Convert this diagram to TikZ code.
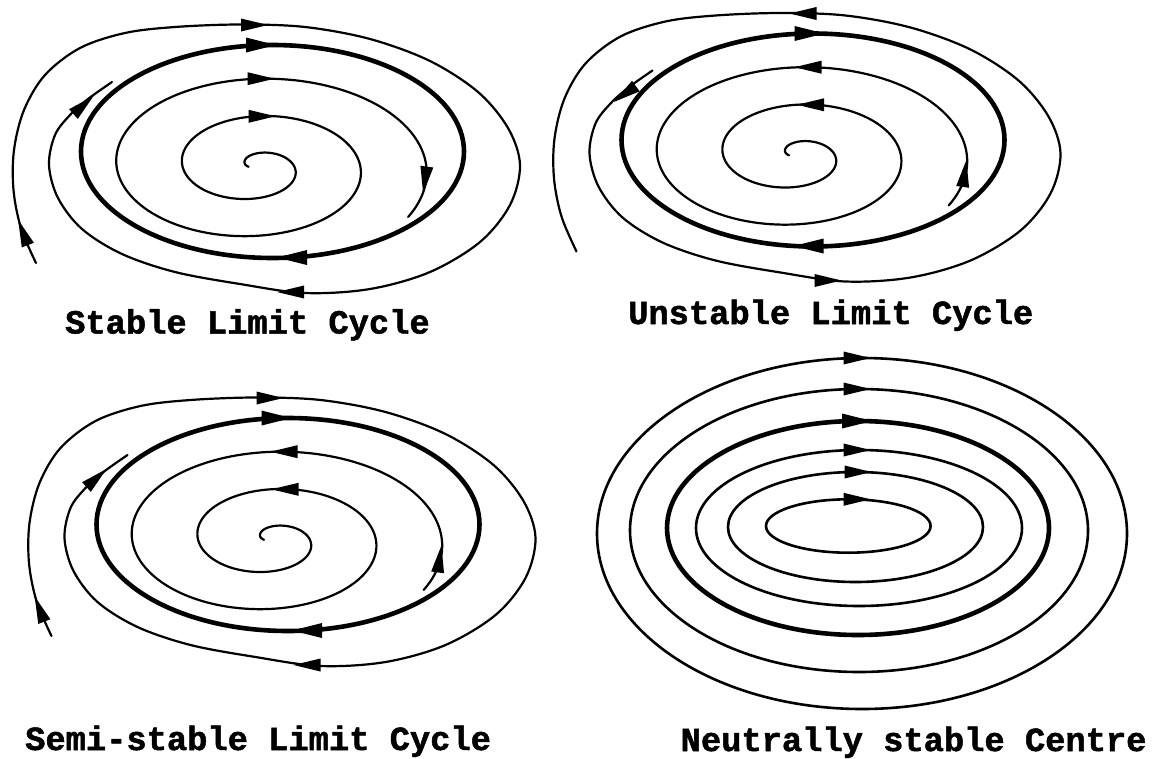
\documentclass[tikz,border=0pt]{standalone}
\usepackage{fontspec}
\newfontfamily\lblfont{Liberation Mono}[BoldFeatures={FakeBold=1.5}]
\newcommand{\mkarrow}[3]{\fill[shift={(#1,#2)},rotate=#3] (13.5,0) -- (-13.5,6.5) -- (-13.5,-6.5) -- cycle;}
\newcommand{\mkbarrow}[3]{\fill[shift={(#1,#2)},rotate=#3] (15,0) -- (-15,7.5) -- (-15,-7.5) -- cycle;}
\newcommand{\drawouter}{\draw[traj] plot[smooth,tension=0.55] coordinates {(36,263) (21,228) (13.5,190) (14,150) (24,110) (45,75) (80,48) (125,33) (175,27) (240,24.5) (305,27) (370,39) (430,61) (478,92) (508,128) (520,165) (510,205) (480,242) (430,272) (370,289) (305,293) (240,284) (175,272) (122,254) (82,229) (58,198) (49,165) (55,135) (70,115) (88,99) (112,82)};}
\newcommand{\drawinner}{\draw[traj] plot[domain=180:1110,samples=400,variable=\t] ({255+0.1833*(\t-145)*cos(\t)},{166.75+0.104*(\t-145)*sin(\t)});}
\newcommand{\drawcycle}{\draw[cyc] (272.5,151.5) ellipse [x radius=191.5pt, y radius=106.5pt];}
\begin{document}
\begin{tikzpicture}[x=1pt,y=-1pt,line join=round,line cap=round]
\tikzset{
 traj/.style={line width=2.2pt},
 cyc/.style={line width=4.6pt},
 ctr/.style={line width=2.6pt},
 lbl/.style={font=\lblfont\bfseries\fontsize{33.75pt}{40pt}\selectfont, inner sep=0pt, anchor=base west},
}
\useasboundingbox (0,0) rectangle (1154,758);
\fill[white] (0,0) rectangle (1154,758);

% Panel 1: stable limit cycle
\begin{scope}
 \drawouter \drawcycle \drawinner
 \mkarrow{23}{232.5}{111} \mkarrow{254.5}{25}{0} \mkarrow{290.5}{292}{180} \mkarrow{83.5}{105}{42}
 \mkbarrow{261}{45}{0} \mkbarrow{292}{257.5}{180}
 \mkarrow{262}{116.3}{0} \mkarrow{261}{78.7}{0} \mkarrow{425}{180}{-98}
\end{scope}

% Panel 2: unstable limit cycle
\begin{scope}[shift={(540.5,-11.5)}]
 \drawouter \drawcycle \drawinner
 \mkarrow{262.5}{25}{180} \mkarrow{287.5}{292}{0} \mkarrow{84.4}{105.5}{216}
 \mkbarrow{269}{45}{0} \mkbarrow{268}{257.5}{180}
 \mkarrow{270}{116.3}{180} \mkarrow{267.5}{78.7}{180} \mkarrow{424}{185}{82}
\end{scope}

% Panel 3: semi-stable limit cycle
\begin{scope}[shift={(15.5,373)}]
 \drawouter \drawcycle \drawinner
 \mkarrow{24}{236}{111} \mkarrow{254.5}{25}{0} \mkarrow{291.5}{292}{180} \mkarrow{81}{105}{42}
 \mkbarrow{261}{45}{0} \mkbarrow{291.5}{257.5}{180}
 \mkarrow{269.5}{116.3}{180} \mkarrow{268.5}{78.7}{180} \mkarrow{424}{186}{82}
\end{scope}

% Panel 4: neutrally stable centre
\draw[ctr] (848.3,526) ellipse [x radius=82.3pt, y radius=26.7pt];
\draw[ctr] (855.5,527) ellipse [x radius=127.5pt, y radius=55pt];
\draw[ctr] (859,528) ellipse [x radius=163pt, y radius=78pt];
\draw[cyc] (858,528) ellipse [x radius=191pt, y radius=107pt];
\draw[ctr] (859,530.5) ellipse [x radius=229pt, y radius=141.5pt];
\draw[ctr] (862,533.5) ellipse [x radius=265pt, y radius=175.5pt];
\mkarrow{857}{499.3}{0} \mkarrow{858}{472}{0} \mkarrow{857}{450}{0}
\mkbarrow{857}{421}{0} \mkarrow{857}{389}{0} \mkarrow{857}{358}{0}

% Labels
\node[lbl] (lab1) at (65,333.5) {Stable Limit Cycle};
\node[lbl] (lab2) at (628,324) {Unstable Limit Cycle};
\node[lbl] (lab3) at (25,750) {Semi-stable Limit Cycle};
\node[lbl] (lab4) at (680.5,751) {Neutrally stable Centre};
\end{tikzpicture}
\end{document}
